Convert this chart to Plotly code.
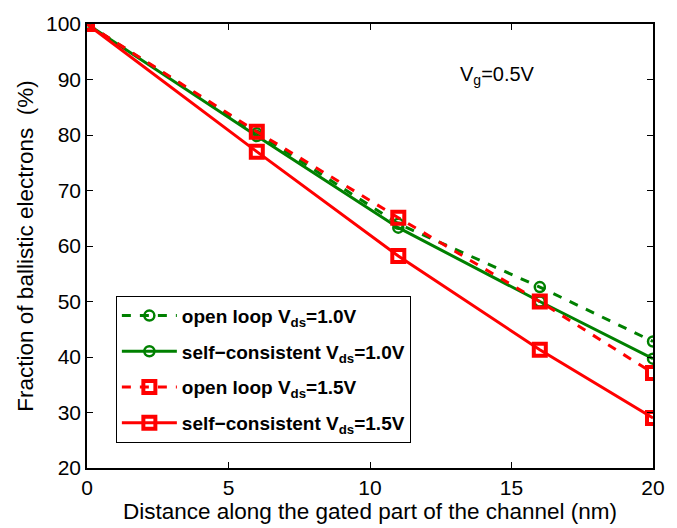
import plotly.graph_objects as go

distance = [0, 6, 11, 16, 20]
open_loop_10 = [100, 80.3, 64.0, 52.6, 42.8]
self_cons_10 = [100, 79.8, 63.3, 50.0, 39.7]
open_loop_15 = [100, 80.6, 65.1, 50.0, 37.1]
self_cons_15 = [100, 77.0, 58.2, 41.3, 29.0]

GREEN = "#008000"
RED = "#ff0000"
FONT = "Liberation Sans, Arial"

fig = go.Figure()
fig.add_trace(go.Scatter(x=distance, y=open_loop_10, mode="lines+markers",
                         name="open loop V<sub>ds</sub>=1.0V", legendgroup="a",
                         line=dict(color=GREEN, width=3, dash="dash"),
                         marker=dict(symbol="circle-open", size=10, color=GREEN, line=dict(width=2.5, color=GREEN))))
fig.add_trace(go.Scatter(x=distance, y=self_cons_10, mode="lines+markers",
                         name="self\u2212consistent V<sub>ds</sub>=1.0V", legendgroup="b",
                         line=dict(color=GREEN, width=3),
                         marker=dict(symbol="circle-open", size=10, color=GREEN, line=dict(width=2.5, color=GREEN))))
fig.add_trace(go.Scatter(x=distance, y=open_loop_15, mode="lines+markers",
                         name="open loop V<sub>ds</sub>=1.5V", legendgroup="c",
                         line=dict(color=RED, width=3, dash="dash"),
                         marker=dict(symbol="square-open", size=12, color=RED, line=dict(width=4, color=RED))))
fig.add_trace(go.Scatter(x=distance, y=self_cons_15, mode="lines+markers",
                         name="self\u2212consistent V<sub>ds</sub>=1.5V", legendgroup="d",
                         line=dict(color=RED, width=3),
                         marker=dict(symbol="square-open", size=12, color=RED, line=dict(width=4, color=RED))))

axis_common = dict(showline=True, linecolor="black", linewidth=1.5, mirror="ticks",
                   ticks="inside", ticklen=6, tickcolor="black", showgrid=False, zeroline=False,
                   tickfont=dict(family=FONT, size=21, color="black"))

fig.update_xaxes(range=[0, 20], tickvals=[0, 5, 10, 15, 20],
                 title=dict(text="Distance along the gated part of the channel (nm)",
                            font=dict(family=FONT, size=22.5, color="black"), standoff=0),
                 **axis_common)
fig.update_yaxes(range=[20, 100], tickvals=[20, 30, 40, 50, 60, 70, 80, 90, 100],
                 title=dict(text="Fraction of ballistic electrons  (%)",
                            font=dict(family=FONT, size=22.5, color="black"), standoff=6),
                 **axis_common)

fig.add_annotation(x=14.5, y=90.8, xref="x", yref="y", showarrow=False,
                   text="V<sub>g</sub>=0.5V",
                   font=dict(family=FONT, size=20, color="black"))

fig.update_layout(
    width=677, height=528,
    margin=dict(l=87, r=23, t=14, b=60),
    plot_bgcolor="white", paper_bgcolor="white",
    legend=dict(x=0.051, y=0.388, xanchor="left", yanchor="top",
                bordercolor="black", borderwidth=1, bgcolor="white",
                traceorder="grouped", tracegroupgap=8, itemwidth=55,
                font=dict(family=FONT, size=19, color="black", weight="bold")),
)

fig.write_html("out.html")
